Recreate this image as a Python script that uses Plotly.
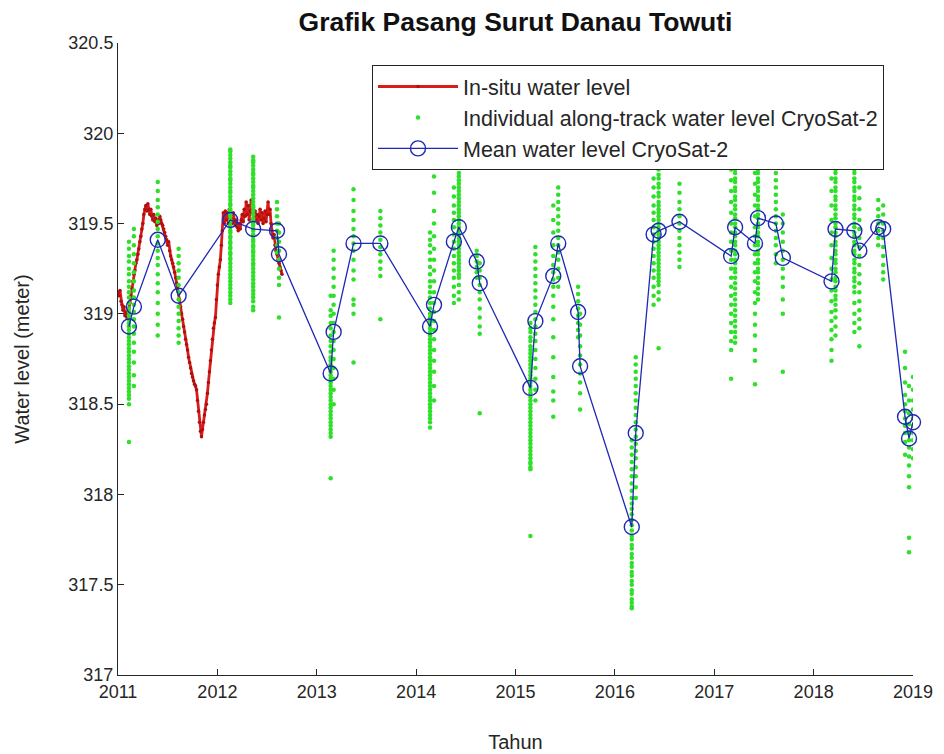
import plotly.graph_objects as go

# ---------------- data ----------------
insitu_dates = [
    2011.00, 2011.01, 2011.02, 2011.03, 2011.04, 2011.05, 2011.06, 2011.07, 2011.08, 2011.09,
    2011.10, 2011.11, 2011.12, 2011.13, 2011.14, 2011.15, 2011.16, 2011.17, 2011.18, 2011.19,
    2011.20, 2011.21, 2011.22, 2011.23, 2011.24, 2011.25, 2011.26, 2011.27, 2011.28, 2011.29,
    2011.30, 2011.31, 2011.32, 2011.33, 2011.34, 2011.35, 2011.36, 2011.37, 2011.38, 2011.39,
    2011.40, 2011.41, 2011.42, 2011.43, 2011.44, 2011.45, 2011.46, 2011.47, 2011.48, 2011.49,
    2011.50, 2011.51, 2011.52, 2011.53, 2011.54, 2011.55, 2011.56, 2011.57, 2011.58, 2011.59,
    2011.60, 2011.61, 2011.62, 2011.63, 2011.64, 2011.65, 2011.66, 2011.67, 2011.68, 2011.69,
    2011.70, 2011.71, 2011.72, 2011.73, 2011.74, 2011.75, 2011.76, 2011.77, 2011.78, 2011.79,
    2011.80, 2011.81, 2011.82, 2011.83, 2011.84, 2011.85, 2011.86, 2011.87, 2011.88, 2011.89,
    2011.90, 2011.91, 2011.92, 2011.93, 2011.94, 2011.95, 2011.96, 2011.97, 2011.98, 2011.99,
    2012.00, 2012.01, 2012.02, 2012.03, 2012.04, 2012.05, 2012.06, 2012.07, 2012.08, 2012.09,
    2012.10, 2012.11, 2012.12, 2012.13, 2012.14, 2012.15, 2012.16, 2012.17, 2012.18, 2012.19,
    2012.20, 2012.21, 2012.22, 2012.23, 2012.24, 2012.25, 2012.26, 2012.27, 2012.28, 2012.29,
    2012.30, 2012.31, 2012.32, 2012.33, 2012.34, 2012.35, 2012.36, 2012.37, 2012.38, 2012.39,
    2012.40, 2012.41, 2012.42, 2012.43, 2012.44, 2012.45, 2012.46, 2012.47, 2012.48, 2012.49,
    2012.50, 2012.51, 2012.52, 2012.53, 2012.54, 2012.55, 2012.56, 2012.57, 2012.58, 2012.59,
    2012.60, 2012.61, 2012.62, 2012.63, 2012.64, 2012.65,
]
insitu_levels = [
    319.12, 319.10, 319.13, 319.07, 319.05, 319.02, 319.04, 318.99, 319.01, 318.98,
    319.00, 319.03, 319.06, 319.10, 319.14, 319.18, 319.22, 319.24, 319.28, 319.30,
    319.33, 319.36, 319.40, 319.43, 319.47, 319.50, 319.55, 319.58, 319.60, 319.57,
    319.61, 319.58, 319.55, 319.58, 319.54, 319.52, 319.55, 319.51, 319.53, 319.49,
    319.52, 319.50, 319.54, 319.52, 319.50, 319.49, 319.47, 319.45, 319.43, 319.41,
    319.38, 319.40, 319.35, 319.32, 319.30, 319.28, 319.26, 319.23, 319.20, 319.17,
    319.15, 319.12, 319.08, 319.04, 319.00, 318.97, 318.93, 318.90, 318.86, 318.83,
    318.80, 318.76, 318.73, 318.70, 318.67, 318.65, 318.63, 318.61, 318.60, 318.58,
    318.52, 318.46, 318.40, 318.35, 318.32, 318.36, 318.40, 318.44, 318.47, 318.50,
    318.56, 318.62, 318.68, 318.74, 318.80, 318.86, 318.92, 318.95, 318.98, 319.08,
    319.16, 319.22, 319.26, 319.30, 319.38, 319.46, 319.56, 319.50, 319.57, 319.52,
    319.56, 319.50, 319.58, 319.53, 319.55, 319.50, 319.56, 319.52, 319.49, 319.52,
    319.48, 319.46, 319.50, 319.47, 319.52, 319.55, 319.51, 319.58, 319.54, 319.62,
    319.55, 319.60, 319.52, 319.57, 319.63, 319.56, 319.60, 319.53, 319.57, 319.52,
    319.55, 319.50, 319.54, 319.58, 319.52, 319.56, 319.50, 319.53, 319.57, 319.51,
    319.55, 319.62, 319.55, 319.58, 319.50, 319.46, 319.42, 319.44, 319.38, 319.35,
    319.33, 319.30, 319.28, 319.26, 319.24, 319.22,
]

# individual along-track CryoSat-2 levels, one list per satellite pass
pass_dates = [
    2011.11, 2011.16, 2011.40, 2011.61, 2012.13, 2012.36, 2012.60, 2012.62, 2013.14, 2013.17,
    2013.37, 2013.64, 2014.14, 2014.18, 2014.38, 2014.43, 2014.61, 2014.64, 2015.15, 2015.20,
    2015.38, 2015.43, 2015.63, 2015.65, 2016.17, 2016.21, 2016.39, 2016.44, 2016.65, 2017.17,
    2017.21, 2017.41, 2017.44, 2017.62, 2017.69, 2018.18, 2018.22, 2018.41, 2018.46, 2018.65,
    2018.70, 2018.92, 2018.96, 2019.00,
]
pass_levels = [
    [319.40, 319.32, 319.25, 319.18, 319.12, 319.06, 319.01, 318.97, 318.93, 318.89, 318.85,
     318.81, 318.77, 318.73, 318.69, 318.65, 318.61, 318.57, 318.53, 318.50, 318.29,
     319.36, 319.29, 319.22, 319.15, 319.09, 319.03, 318.99, 318.95, 318.91, 318.87, 318.83,
     318.79, 318.75, 318.71, 318.67, 318.63, 318.59, 318.55],
    [319.47, 319.43, 319.38, 319.33, 319.28, 319.23, 319.18, 319.13, 319.09, 319.05, 319.01,
     318.97, 318.93, 318.89, 318.84, 318.79, 318.73, 318.66, 318.60],
    [319.73, 319.68, 319.63, 319.59, 319.55, 319.51, 319.47, 319.43, 319.39, 319.35, 319.31,
     319.27, 319.22, 319.17, 319.12, 319.06, 319.00, 318.94, 318.88],
    [319.36, 319.32, 319.28, 319.24, 319.20, 319.16, 319.12, 319.08, 319.04, 319.00, 318.96,
     318.92, 318.88, 318.84],
    [319.91, 319.88, 319.84, 319.81, 319.77, 319.74, 319.70, 319.67, 319.63, 319.60, 319.57,
     319.54, 319.51, 319.48, 319.45, 319.42, 319.39, 319.36, 319.33, 319.30, 319.26, 319.22,
     319.18, 319.14, 319.10, 319.06,
     319.90, 319.86, 319.82, 319.79, 319.75, 319.72, 319.68, 319.65, 319.61, 319.58, 319.55,
     319.52, 319.49, 319.46, 319.43, 319.40, 319.37, 319.34, 319.31, 319.28, 319.24, 319.20,
     319.16, 319.12, 319.08],
    [319.87, 319.84, 319.80, 319.77, 319.73, 319.70, 319.66, 319.62, 319.59, 319.55, 319.52,
     319.49, 319.46, 319.43, 319.40, 319.37, 319.34, 319.30, 319.27, 319.23, 319.19, 319.15,
     319.11, 319.07, 319.02,
     319.85, 319.82, 319.78, 319.75, 319.71, 319.68, 319.64, 319.60, 319.57, 319.53, 319.50,
     319.47, 319.44, 319.41, 319.38, 319.35, 319.32, 319.28, 319.25, 319.21, 319.17, 319.13,
     319.09, 319.04],
    [319.62, 319.58, 319.54, 319.50, 319.46, 319.42, 319.38, 319.34],
    [319.50, 319.45, 319.40, 319.35, 319.30, 319.25, 319.20, 319.16, 318.98],
    [319.10, 319.02, 318.95, 318.88, 318.82, 318.76, 318.72, 318.68, 318.64, 318.60, 318.56,
     318.52, 318.48, 318.44, 318.40, 318.36, 318.32, 318.09,
     318.99, 318.92, 318.85, 318.79, 318.74, 318.70, 318.66, 318.62, 318.58, 318.54, 318.50,
     318.46, 318.42, 318.38, 318.34],
    [319.35, 319.30, 319.25, 319.20, 319.15, 319.10, 319.05, 319.00, 318.95, 318.90, 318.85,
     318.80, 318.75, 318.70, 318.64, 318.58, 318.50],
    [319.69, 319.63, 319.57, 319.52, 319.47, 319.43, 319.39, 319.35, 319.30, 319.24, 319.19,
     319.08, 319.05, 319.00, 318.73],
    [319.57, 319.53, 319.49, 319.45, 319.41, 319.37, 319.33, 319.29, 319.25, 319.21, 318.97],
    [319.45, 319.38, 319.30, 319.22, 319.15, 319.09, 319.03, 318.98, 318.94, 318.90, 318.86,
     318.82, 318.78, 318.74, 318.70, 318.66, 318.62, 318.58, 318.54, 318.50, 318.46, 318.42,
     318.37,
     319.41, 319.34, 319.26, 319.18, 319.12, 319.06, 319.00, 318.96, 318.92, 318.88, 318.84,
     318.80, 318.76, 318.72, 318.68, 318.64, 318.60, 318.56, 318.52, 318.48, 318.44, 318.40],
    [319.76, 319.67, 319.57, 319.50, 319.43, 319.36, 319.30, 319.24, 319.18, 319.12, 319.06,
     319.01, 318.96, 318.91, 318.86, 318.80, 318.74, 318.68, 318.60, 318.52],
    [319.70, 319.65, 319.60, 319.56, 319.52, 319.48, 319.44, 319.40, 319.36, 319.32, 319.28,
     319.24, 319.20, 319.15, 319.10, 319.06],
    [319.78, 319.74, 319.70, 319.66, 319.62, 319.58, 319.54, 319.50, 319.46, 319.42, 319.38,
     319.34, 319.30, 319.26, 319.22,
     319.76, 319.72, 319.68, 319.64, 319.60, 319.56, 319.52, 319.48, 319.44, 319.40, 319.36,
     319.32, 319.28, 319.24, 319.20, 319.16, 319.12, 319.08],
    [319.35, 319.32, 319.29, 319.26, 319.23, 319.20],
    [319.28, 319.24, 319.20, 319.16, 319.12, 319.08, 319.03, 318.98, 318.93, 318.89, 318.45],
    [318.95, 318.90, 318.85, 318.80, 318.76, 318.72, 318.68, 318.64, 318.60, 318.56, 318.52,
     318.48, 318.44, 318.40, 318.36, 318.32, 318.28, 318.24, 318.20, 318.17, 318.14, 317.77,
     318.92, 318.87, 318.82, 318.78, 318.74, 318.70, 318.66, 318.62, 318.58, 318.54, 318.50,
     318.46, 318.42, 318.38, 318.34, 318.30, 318.26, 318.22, 318.18, 318.15],
    [319.37, 319.33, 319.29, 319.25, 319.21, 319.17, 319.13, 319.09, 319.05, 319.01, 318.97,
     318.93, 318.89, 318.85, 318.80, 318.75, 318.70, 318.64, 318.58, 318.52],
    [319.60, 319.52, 319.45, 319.38, 319.32, 319.27, 319.23, 319.19, 319.15, 319.10, 319.04,
     318.97, 318.87, 318.76, 318.65, 318.57, 318.52, 318.43],
    [319.70, 319.66, 319.62, 319.58, 319.54, 319.50, 319.46, 319.42, 319.38, 319.34, 319.30,
     319.25, 319.20, 319.15],
    [319.15, 319.11, 319.07, 319.03, 318.99, 318.95, 318.91, 318.87],
    [319.00, 318.94, 318.88, 318.82, 318.77, 318.72, 318.67, 318.62, 318.56, 318.47],
    [318.30, 318.22, 318.14, 318.06, 317.98, 317.92, 317.86, 317.80, 317.75, 317.70, 317.65,
     317.60, 317.55, 317.50, 317.45, 317.40, 317.37,
     318.26, 318.18, 318.10, 318.02, 317.95, 317.89, 317.83, 317.77, 317.72, 317.67, 317.62,
     317.57, 317.52, 317.47, 317.42, 317.38],
    [318.76, 318.72, 318.68, 318.64, 318.60, 318.56, 318.52, 318.48, 318.44, 318.40, 318.36,
     318.32, 318.28, 318.24, 318.20, 318.15, 318.10, 318.04, 317.98],
    [319.75, 319.70, 319.65, 319.60, 319.56, 319.52, 319.48, 319.44, 319.40, 319.36, 319.32,
     319.28, 319.24, 319.20, 319.15, 319.10, 319.05],
    [319.82, 319.77, 319.72, 319.67, 319.62, 319.58, 319.54, 319.50, 319.46, 319.42, 319.38,
     319.34, 319.30, 319.26, 319.22, 319.18, 318.81,
     319.80, 319.75, 319.70, 319.65, 319.60, 319.56, 319.52, 319.48, 319.44, 319.40, 319.36,
     319.32, 319.28, 319.24, 319.20, 319.16, 319.12, 319.08],
    [319.72, 319.67, 319.62, 319.58, 319.54, 319.50, 319.46, 319.42, 319.38, 319.34, 319.30,
     319.26],
    [319.80, 319.74, 319.68, 319.62, 319.56, 319.50, 319.45, 319.40, 319.35, 319.30, 319.25,
     319.20, 319.15, 319.10, 319.05, 319.00, 318.95, 318.90, 318.85, 318.80, 318.64],
    [320.05, 320.00, 319.95, 319.90, 319.85, 319.80, 319.75, 319.70, 319.65, 319.60, 319.55,
     319.50, 319.45, 319.40, 319.35, 319.30, 319.25, 319.20, 319.14, 319.08, 319.02, 318.96,
     318.90, 318.84,
     320.03, 319.98, 319.93, 319.88, 319.83, 319.78, 319.73, 319.68, 319.63, 319.58, 319.53,
     319.48, 319.43, 319.38, 319.33, 319.28, 319.23, 319.17, 319.11, 319.05, 318.99, 318.93,
     318.87],
    [319.85, 319.78, 319.72, 319.66, 319.60, 319.54, 319.48, 319.43, 319.38, 319.33, 319.28,
     319.23, 319.18, 319.12, 319.06, 319.00, 318.94, 318.88, 318.80, 318.74, 318.61],
    [320.05, 320.00, 319.95, 319.90, 319.85, 319.80, 319.75, 319.70, 319.65, 319.60, 319.55,
     319.50, 319.45, 319.40, 319.35, 319.30, 319.25, 319.20, 319.14, 319.08,
     320.03, 319.98, 319.93, 319.88, 319.83, 319.78, 319.73, 319.68, 319.63, 319.58, 319.53,
     319.48, 319.43, 319.38, 319.33, 319.28, 319.23, 319.17, 319.11],
    [319.78, 319.74, 319.70, 319.66, 319.62, 319.58, 319.54, 319.50, 319.46, 319.42, 319.38,
     319.33, 319.28],
    [319.55, 319.50, 319.45, 319.40, 319.35, 319.30, 319.25, 319.20, 319.15, 319.08, 319.00,
     318.68],
    [319.75, 319.68, 319.60, 319.52, 319.45, 319.38, 319.31, 319.25, 319.19, 319.13, 319.07,
     319.01, 318.96, 318.91, 318.86, 318.80, 318.74],
    [320.05, 320.00, 319.95, 319.90, 319.85, 319.80, 319.75, 319.70, 319.65, 319.60, 319.55,
     319.50, 319.45, 319.40, 319.35, 319.30, 319.25, 319.20, 319.15, 319.10, 319.05,
     320.03, 319.98, 319.93, 319.88, 319.83, 319.78, 319.73, 319.68, 319.63, 319.58, 319.53,
     319.48, 319.43, 319.38, 319.33, 319.28, 319.23, 319.18, 319.13, 319.08, 319.02, 318.98,
     318.93, 318.88],
    [319.85, 319.80, 319.75, 319.70, 319.65, 319.60, 319.55, 319.50, 319.45, 319.40, 319.35,
     319.30, 319.25, 319.20, 319.15,
     319.83, 319.78, 319.73, 319.68, 319.63, 319.58, 319.53, 319.48, 319.43, 319.38, 319.33,
     319.28, 319.23, 319.18, 319.12, 319.06, 319.00, 318.95, 318.90],
    [319.70, 319.64, 319.58, 319.52, 319.47, 319.42, 319.37, 319.32, 319.27, 319.22, 319.17,
     319.12, 319.07, 319.02, 318.97, 318.92, 318.82],
    [319.63, 319.58, 319.54, 319.50, 319.46, 319.42, 319.38],
    [319.60, 319.55, 319.50, 319.46, 319.42, 319.37, 319.32, 319.27, 319.23, 319.19],
    [318.79, 318.70, 318.62, 318.55, 318.50, 318.46, 318.42, 318.38, 318.34, 318.29, 318.22],
    [318.60, 318.52, 318.45, 318.39, 318.34, 318.30, 318.26, 318.21, 318.16, 318.10, 318.04,
     317.76, 317.68],
    [318.65, 318.58, 318.52, 318.47, 318.42, 318.38, 318.34, 318.30, 318.25, 318.20],
]

mean_dates = [
    2011.11, 2011.16, 2011.40, 2011.61, 2012.13, 2012.36, 2012.60, 2012.62, 2013.14, 2013.17,
    2013.37, 2013.64, 2014.14, 2014.18, 2014.38, 2014.43, 2014.61, 2014.64, 2015.15, 2015.20,
    2015.38, 2015.43, 2015.63, 2015.65, 2016.17, 2016.21, 2016.39, 2016.44, 2016.65, 2017.17,
    2017.21, 2017.41, 2017.44, 2017.62, 2017.69, 2018.18, 2018.22, 2018.41, 2018.46, 2018.65,
    2018.70, 2018.92, 2018.96, 2019.00,
]
mean_levels = [
    318.93, 319.04, 319.41, 319.10, 319.52, 319.47, 319.46, 319.33, 318.67, 318.90,
    319.39, 319.39, 318.93, 319.05, 319.40, 319.48, 319.29, 319.17, 318.59, 318.96,
    319.21, 319.39, 319.01, 318.71, 317.82, 318.34, 319.44, 319.46, 319.51, 319.32,
    319.48, 319.39, 319.53, 319.50, 319.31, 319.18, 319.47, 319.46, 319.35, 319.48,
    319.47, 318.43, 318.31, 318.40,
]

x_tickvals = [2011, 2012, 2013, 2014, 2015, 2016, 2017, 2018, 2019]
x_ticktext = ["2011", "2012", "2013", "2014", "2015", "2016", "2017", "2018", "2019"]
y_tickvals = [317, 317.5, 318, 318.5, 319, 319.5, 320, 320.5]
y_ticktext = ["317", "317.5", "318", "318.5", "319", "319.5", "320", "320.5"]

# flatten the pass table
green_x = []
green_y = []
for d, lv in zip(pass_dates, pass_levels):
    for v in lv:
        green_x.append(d)
        green_y.append(v)

FONT = "Liberation Sans, Arial, sans-serif"
RED = "#d81c1c"
GREEN = "#2ee02a"
BLUE = "#1e28b4"

fig = go.Figure()
fig.add_trace(go.Scatter(
    x=insitu_dates, y=insitu_levels, mode="lines+markers",
    name="In-situ water level", legendgroup="a",
    line=dict(color=RED, width=2.8),
    marker=dict(color="#b01010", size=3.5),
))
fig.add_trace(go.Scatter(
    x=green_x, y=green_y, mode="markers",
    name="Individual along-track water level CryoSat-2", legendgroup="b",
    marker=dict(color=GREEN, size=4.5),
))
fig.add_trace(go.Scatter(
    x=mean_dates, y=mean_levels, mode="lines+markers",
    name="Mean water level CryoSat-2", legendgroup="c",
    line=dict(color=BLUE, width=1.3),
    marker=dict(symbol="circle-open", size=15, color=BLUE, line=dict(width=1.4)),
    cliponaxis=False,
))

fig.update_layout(
    width=944, height=754,
    margin=dict(l=118, r=31, t=43, b=79, autoexpand=False),
    paper_bgcolor="white", plot_bgcolor="white",
    font=dict(family=FONT, size=18, color="#262626"),
    title=dict(text="<b>Grafik Pasang Surut Danau Towuti</b>", x=0.5, xref="paper",
               y=1 - 22 / 754, yref="container", yanchor="middle", xanchor="center",
               font=dict(family=FONT, size=26.5, color="#111111")),
    showlegend=True,
    legend=dict(x=(372 - 118) / 795, y=(675 - 65) / 632, xanchor="left", yanchor="top",
                bgcolor="white", bordercolor="#222222", borderwidth=1,
                traceorder="grouped", tracegroupgap=0,
                font=dict(family=FONT, size=21.5, color="#262626"), itemwidth=80),
)
fig.update_xaxes(
    range=[2011, 2019], tickvals=x_tickvals, ticktext=x_ticktext,
    showline=True, linecolor="#262626", linewidth=1, mirror=False,
    ticks="inside", ticklen=6, tickcolor="#262626", showgrid=False, zeroline=False,
    automargin=False,
    title=dict(text="Tahun", font=dict(size=20), standoff=34),
)
fig.update_yaxes(
    range=[317, 320.5], tickvals=y_tickvals, ticktext=y_ticktext,
    showline=True, linecolor="#262626", linewidth=1, mirror=False,
    ticks="inside", ticklen=6, tickcolor="#262626", showgrid=False, zeroline=False,
    automargin=False,
    title=dict(text="Water level (meter)", font=dict(size=20), standoff=33),
)

fig.write_html("out.html")
